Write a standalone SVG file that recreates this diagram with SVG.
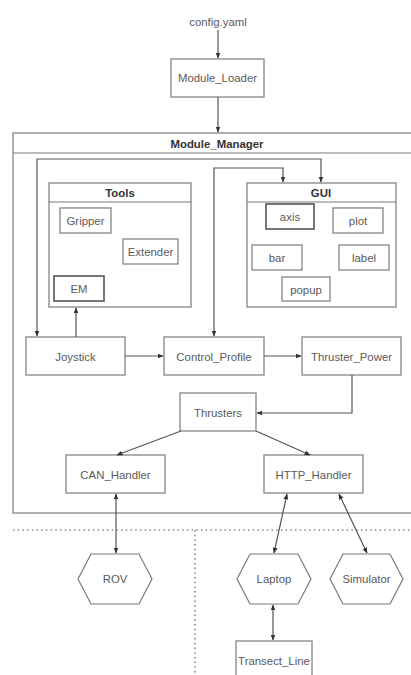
<svg xmlns="http://www.w3.org/2000/svg" width="411" height="675" viewBox="0 0 411 675">
<defs>
<style>
.box{fill:#fff;stroke:#7a7a7a;stroke-width:1.2}
.dark{fill:#fff;stroke:#555;stroke-width:1.6}
.cont{fill:none;stroke:#7a7a7a;stroke-width:1.2}
.t{font-family:"Liberation Sans",Arial,sans-serif;font-size:11.4px;fill:#5a5a5a;text-anchor:middle;dominant-baseline:central}
.b{font-weight:bold;fill:#333}
.c{fill:none;stroke:#555;stroke-width:1.2}
.dot{fill:none;stroke:#888;stroke-width:1.6;stroke-dasharray:1.5 3.2}
</style>
<marker id="a" viewBox="0 0 10 10" refX="9" refY="5" markerWidth="6" markerHeight="6" orient="auto-start-reverse" markerUnits="userSpaceOnUse">
<path d="M0,1 L10,5 L0,9 z" fill="#333"/>
</marker>
</defs>
<rect width="411" height="675" fill="#fff"/>

<g id="separators">
<line class="dot" x1="13" y1="530" x2="411" y2="530"/>
<line class="dot" x1="195" y1="530" x2="195" y2="675"/>
</g>

<g id="config_yaml"><text class="t" x="218" y="22">config.yaml</text></g>
<g id="Module_Loader"><rect class="box" x="171" y="59" width="93" height="38"/><text class="t" x="217.5" y="78">Module_Loader</text></g>

<g id="Module_Manager">
<rect class="cont" x="13" y="133" width="410" height="380"/>
<line class="cont" x1="13" y1="153" x2="411" y2="153"/>
<text class="t b" x="217" y="144">Module_Manager</text>
</g>

<g id="Tools">
<rect class="cont" x="49" y="183" width="142" height="124"/>
<line class="cont" x1="49" y1="202" x2="191" y2="202"/>
<text class="t b" x="120" y="193">Tools</text>
</g>
<g id="Gripper"><rect class="box" x="60" y="208" width="51" height="25"/><text class="t" x="85.5" y="221">Gripper</text></g>
<g id="Extender"><rect class="box" x="123" y="239" width="55" height="25"/><text class="t" x="150.5" y="252">Extender</text></g>
<g id="EM"><rect class="dark" x="54" y="276" width="50" height="25"/><text class="t" x="79" y="289">EM</text></g>

<g id="GUI">
<rect class="cont" x="247" y="183" width="149" height="124"/>
<line class="cont" x1="247" y1="202" x2="396" y2="202"/>
<text class="t b" x="321" y="193">GUI</text>
</g>
<g id="axis"><rect class="dark" x="266" y="204" width="48" height="25"/><text class="t" x="290" y="217">axis</text></g>
<g id="plot"><rect class="box" x="333" y="208" width="50" height="25"/><text class="t" x="358" y="221">plot</text></g>
<g id="bar"><rect class="box" x="252" y="245" width="50" height="25"/><text class="t" x="277" y="258">bar</text></g>
<g id="label"><rect class="box" x="339" y="245" width="50" height="25"/><text class="t" x="364" y="258">label</text></g>
<g id="popup"><rect class="box" x="282" y="277" width="48" height="24"/><text class="t" x="306" y="289.5">popup</text></g>

<g id="Joystick"><rect class="box" x="26" y="337" width="99" height="38"/><text class="t" x="75.5" y="357">Joystick</text></g>
<g id="Control_Profile"><rect class="box" x="164" y="337" width="100" height="38"/><text class="t" x="214" y="357">Control_Profile</text></g>
<g id="Thruster_Power"><rect class="box" x="302" y="337" width="99" height="38"/><text class="t" x="351.5" y="357">Thruster_Power</text></g>
<g id="Thrusters"><rect class="box" x="180" y="393" width="76" height="38"/><text class="t" x="218" y="413">Thrusters</text></g>
<g id="CAN_Handler"><rect class="box" x="66" y="455" width="99" height="38"/><text class="t" x="115.5" y="475">CAN_Handler</text></g>
<g id="HTTP_Handler"><rect class="box" x="264" y="455" width="99" height="38"/><text class="t" x="313.5" y="475">HTTP_Handler</text></g>

<g id="ROV"><polygon class="box" points="78,579 91,554 139,554 152,579 139,604 91,604"/><text class="t" x="115" y="579">ROV</text></g>
<g id="Laptop"><polygon class="box" points="237,579 250,554 298,554 311,579 298,604 250,604"/><text class="t" x="274" y="579">Laptop</text></g>
<g id="Simulator"><polygon class="box" points="330,579 343,554 390,554 403,579 390,604 343,604"/><text class="t" x="366.5" y="579">Simulator</text></g>
<g id="Transect_Line"><rect class="box" x="236" y="641" width="76" height="40"/><text class="t" x="274" y="661">Transect_Line</text></g>

<g id="connectors">
<path class="c" d="M218,30 V58" marker-end="url(#a)"/>
<path class="c" d="M218,97 V132" marker-end="url(#a)"/>
<path class="c" d="M321,182 V159 H37 V336" marker-start="url(#a)" marker-end="url(#a)"/>
<path class="c" d="M283,182 V168 H214 V336" marker-start="url(#a)" marker-end="url(#a)"/>
<path class="c" d="M76,337 V308" marker-end="url(#a)"/>
<path class="c" d="M125,356 H163" marker-end="url(#a)"/>
<path class="c" d="M264,356 H301" marker-end="url(#a)"/>
<path class="c" d="M352,375 V413 H257" marker-end="url(#a)"/>
<path class="c" d="M181,431 L117,455" marker-end="url(#a)"/>
<path class="c" d="M256,431 L310,455" marker-end="url(#a)"/>
<path class="c" d="M116,494 V553" marker-start="url(#a)" marker-end="url(#a)"/>
<path class="c" d="M287,494 L274,553" marker-start="url(#a)" marker-end="url(#a)"/>
<path class="c" d="M339,494 L367,553" marker-start="url(#a)" marker-end="url(#a)"/>
<path class="c" d="M273,605 V640" marker-start="url(#a)" marker-end="url(#a)"/>
</g>
</svg>
